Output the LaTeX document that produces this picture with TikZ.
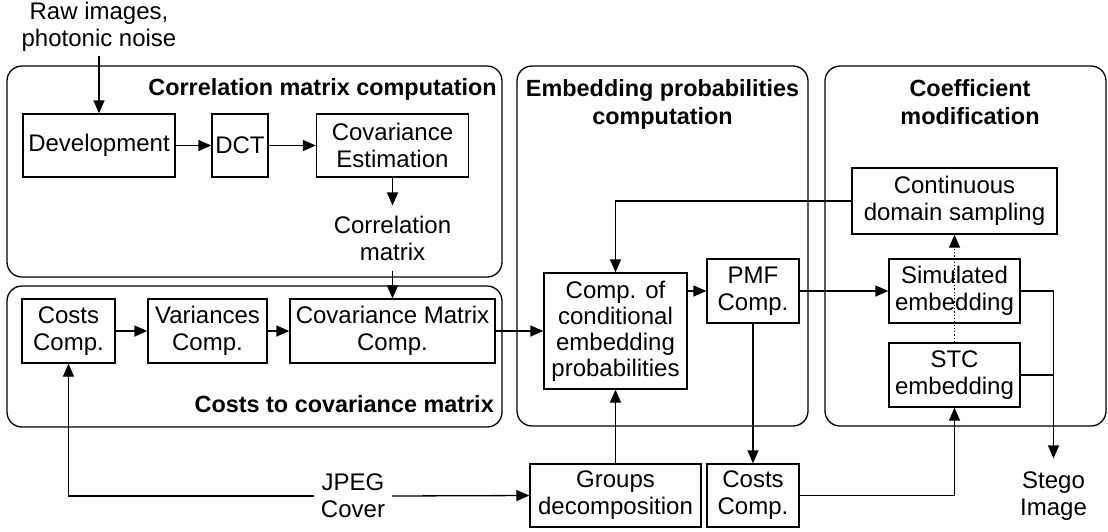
\documentclass[tikz,border=0pt]{standalone}
\usepackage{fontspec}
\setmainfont{Liberation Sans}
\usetikzlibrary{arrows.meta,positioning}

\begin{document}
\begin{tikzpicture}[x=1pt, y=-1pt, font=\fontsize{24}{27}\selectfont,
  box/.style={draw, line width=1.3pt, align=center, inner sep=2pt},
  grp/.style={draw, line width=1.3pt, rounded corners=15pt},
  lbl/.style={align=center, inner sep=4pt},
  ttl/.style={font=\fontsize{23.4}{28}\selectfont\bfseries, align=center, inner sep=0pt},
  ln/.style={line width=1.3pt},
  arr/.style={-{Triangle[length=13pt,width=11pt]}, line width=1.3pt}]
  \useasboundingbox (0,0) rectangle (1108,531);

  \draw[grp] (7,66) rectangle (502,277);
  \draw[grp] (7,286) rectangle (502,427);
  \draw[grp] (517,66) rectangle (808,426);
  \draw[grp] (825,66) rectangle (1106,426);

  \node[ttl, anchor=base east] (corrttl) at (497,95) {Correlation matrix computation};
  \node[ttl, anchor=base east] (costttl) at (494,412) {Costs to covariance matrix};
  \node[ttl] (embttl) at (662.5,104) {Embedding probabilities\\computation};
  \node[ttl] (coefttl) at (970,102) {Coefficient\\modification};

  \node[lbl] (raw) at (99,27) {Raw images,\\photonic noise};
  \node[box, minimum width=152pt, minimum height=63pt] (dev) at (99,145.5) {Development};
  \node[box, minimum width=56pt, minimum height=63pt] (dct) at (240,145.5) {DCT};
  \node[box, minimum width=152pt, minimum height=63pt] (covest) at (392.5,145.5) {Covariance\\Estimation};
  \node[lbl, inner ysep=10pt] (corr) at (392.5,238) {Correlation\\matrix};

  \node[box, minimum width=93pt, minimum height=64pt] (costs) at (68.5,331) {Costs\\Comp.};
  \node[box, minimum width=119pt, minimum height=64pt] (var) at (207.5,331) {Variances\\Comp.};
  \node[box, minimum width=205pt, minimum height=64pt] (covmat) at (392.5,331) {Covariance Matrix\\Comp.};

  \node[box, minimum width=143pt, minimum height=116pt, font=\fontsize{24}{26}\selectfont] (cond) at (615.5,331) {Comp. of\\conditional\\embedding\\probabilities};
  \node[box, minimum width=92pt, minimum height=64pt] (pmf) at (753,291) {PMF\\Comp.};

  \node[box, minimum width=205pt, minimum height=66pt] (cds) at (954.5,201) {Continuous\\domain sampling};
  \node[box, minimum width=131pt, minimum height=64pt] (sim) at (954.5,291) {Simulated\\embedding};
  \node[box, minimum width=131pt, minimum height=64pt] (stc) at (954.5,375) {STC\\embedding};

  \node[box, minimum width=171pt, minimum height=63pt] (groups) at (615.5,495.5) {Groups\\decomposition};
  \node[box, minimum width=92pt, minimum height=63pt] (costsb) at (753,495.5) {Costs\\Comp.};
  \node[lbl, inner sep=7pt] (jpeg) at (353,496) {JPEG\\Cover};
  \node[lbl, inner ysep=13pt] (stego) at (1053.5,496) {Stego\\Image};

  \draw[arr] (raw) -- (dev);
  \draw[arr] (dev) -- (dct);
  \draw[arr] (dct) -- (covest);
  \draw[arr] (covest) -- (corr);
  \draw[arr] (corr) -- (covmat);
  \draw[arr] (costs) -- (var);
  \draw[arr] (var) -- (covmat);
  \draw[arr] (covmat) -- (cond);
  \draw[arr] (cond.east |- pmf) -- (pmf);
  \draw[arr] (pmf) -- (sim);
  \draw[arr] (cds.west) -| (cond.north);
  \draw[arr, dotted] (stc) -- (cds);
  \draw[arr] (sim.east) -| (stego.north);
  \draw[ln] (stc.east) -- (stc.east -| stego.north);
  \draw[arr] (jpeg.west) -| (costs.south);
  \draw[arr] (jpeg.east) -- (groups.west);
  \draw[arr] (groups) -- (cond);
  \draw[arr] (pmf) -- (costsb);
  \draw[arr] (costsb.east) -| (stc.south);
\end{tikzpicture}
\end{document}
